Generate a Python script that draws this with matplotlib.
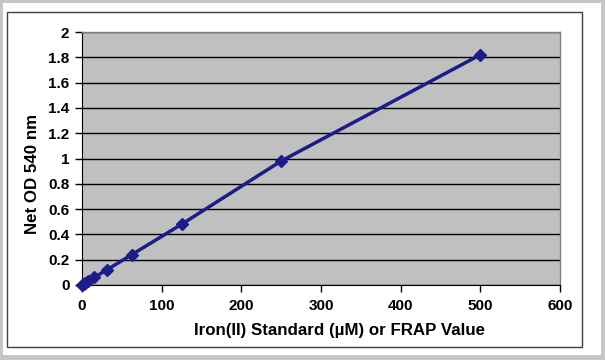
import matplotlib
matplotlib.use("Agg")
import matplotlib.pyplot as plt
from matplotlib.patches import Rectangle

# serial dilution of the iron(II) standard
conc_um = [0, 1.95, 3.9, 7.8, 15.6, 31.25, 62.5, 125, 250, 500]
net_od = [0, 0.008, 0.015, 0.03, 0.06, 0.12, 0.24, 0.48, 0.98, 1.82]

x_ticks = [0, 100, 200, 300, 400, 500, 600]
y_ticks = [0, 0.2, 0.4, 0.6, 0.8, 1, 1.2, 1.4, 1.6, 1.8, 2]
y_tick_labels = ['0', '0.2', '0.4', '0.6', '0.8', '1', '1.2', '1.4',
                 '1.6', '1.8', '2']

plt.rcParams['font.family'] = ['Liberation Sans', 'DejaVu Sans']
plt.rcParams['font.weight'] = 'bold'

W, H = 605, 360
fig = plt.figure(figsize=(W / 100, H / 100), dpi=100, facecolor='#c6c6c6')

# white page and chart frame, behind the axes
fig.patches.append(Rectangle((3 / W, 1 - 355 / H), 598 / W, 352 / H,
                             transform=fig.transFigure, facecolor='white',
                             edgecolor='none', zorder=-10))
fig.patches.append(Rectangle((7 / W, 1 - 347 / H), 575 / W, 335 / H,
                             transform=fig.transFigure, facecolor='white',
                             edgecolor='#404040', linewidth=1, zorder=-9))

ax = fig.add_axes([82 / W, 1 - 285 / H, 478 / W, 253 / H])
ax.set_facecolor('#c0c0c0')

ax.plot(conc_um, net_od, color='#1c1c8a', linewidth=2.5, marker='D',
        markersize=6, markerfacecolor='#1c1c8a', markeredgecolor='#1c1c8a',
        clip_on=False, zorder=3)

ax.set_xlim(0, 600)
ax.set_ylim(0, 2)
ax.set_xticks(x_ticks)
ax.set_yticks(y_ticks)
ax.set_xticklabels([str(v) for v in x_ticks])
ax.set_yticklabels(y_tick_labels)
ax.tick_params(axis='both', labelsize=11, length=5, width=1, color='black',
               direction='out', pad=5)
ax.tick_params(axis='y', pad=4)

ax.yaxis.grid(True, color='black', linewidth=1)
ax.set_axisbelow(True)

for side in ['top', 'right']:
    ax.spines[side].set_color('#808080')
    ax.spines[side].set_linewidth(1)
ax.spines['left'].set_color('black')
ax.spines['bottom'].set_color('black')

# axis titles placed like the Excel original (slightly off-centre)
ax.set_xlabel('Iron(II) Standard (µM) or FRAP Value', fontsize=12.2,
              fontweight='bold', va='center')
ax.xaxis.set_label_coords(0.5377, -0.178)
ax.set_ylabel('Net OD 540 nm', fontsize=12.2, fontweight='bold', va='center')
ax.yaxis.set_label_coords(-0.1046, 0.4387)

fig.savefig('out.png', dpi=100, facecolor=fig.get_facecolor())
